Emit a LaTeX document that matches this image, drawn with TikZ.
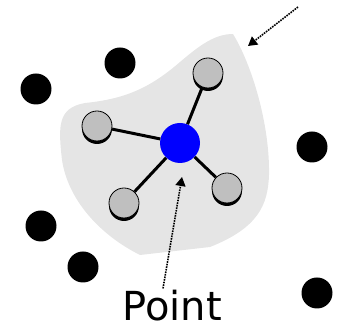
\documentclass[tikz,border=0pt]{standalone}
\usepackage{fontspec}
\newfontfamily\labelfont{DejaVu Sans}
\usetikzlibrary{positioning,arrows.meta,shadows}

\tikzset{
  outer/.style={circle,fill=black,minimum size=31pt,inner sep=0pt},
  nbr/.style={circle,draw=black,line width=0.8pt,fill=gray!50,minimum size=30pt,inner sep=0pt,
    drop shadow={shadow xshift=0pt,shadow yshift=-3pt,fill=black,opacity=1}},
  hub/.style={circle,fill=blue,minimum size=40pt,inner sep=0pt},
  link/.style={line width=3pt},
  pointer/.style={densely dotted,line width=1.6pt,-{Triangle[length=9pt,width=10pt]}},
  blob/.style={fill=gray!20}
}

\begin{document}
\begin{tikzpicture}[x=1pt,y=-1pt]
	\useasboundingbox (0,0) rectangle (341,328);
	% shaded neighbourhood
	\fill[blob] (233,34) .. controls (252,65) and (270,125) .. (269,175)
		.. controls (268,205) and (258,228) .. (210,247) -- (140,255)
		.. controls (100,235) and (68,200) .. (62,160)
		.. controls (58,125) and (58,108) .. (85,103)
		.. controls (125,99) and (150,88) .. (180,62)
		.. controls (200,45) and (215,34) .. (233,34) -- cycle;
	
	% other points
	\node[outer] (o1) at (120,63) {};
	\node[outer] (o2) at (36,89) {};
	\node[outer] (o3) at (312,147) {};
	\node[outer] (o4) at (41,226) {};
	\node[outer] (o5) at (83,267) {};
	\node[outer] (o6) at (317,293) {};
	
	% the point and its neighbours
	\node[hub] (p) at (180,143) {};
	\node[nbr] (n1) at (208,73) {};
	\node[nbr] (n2) at (97,126) {};
	\node[nbr] (n3) at (124,203) {};
	\node[nbr] (n4) at (227,188) {};
	\draw[link] (p) -- (n1);
	\draw[link] (p) -- (n2);
	\draw[link] (p) -- (n3);
	\draw[link] (p) -- (n4);
	
	% labels and pointers
	\node[font=\labelfont\fontsize{40}{48}\selectfont,anchor=base,inner sep=0pt,text depth=0pt] (lbl) at (172,321) {Point};
	\coordinate (tipP) at (182,177);
	\coordinate (tailR) at (298,7);
	\coordinate (tipR) at (248,46);
	\draw[pointer] ([xshift=-9pt,yshift=2pt]lbl.north) -- (tipP);
	\draw[pointer] (tailR) -- (tipR);
\end{tikzpicture}
\end{document}
